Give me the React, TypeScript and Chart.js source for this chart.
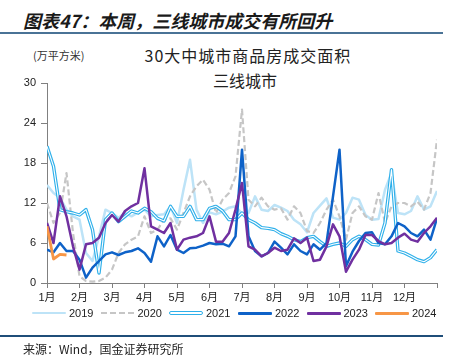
import React, { useEffect, useRef } from 'react';
import { Chart, registerables } from 'chart.js';

Chart.register(...registerables);

const STEP = 0.2; // month step between samples
const monthLabels = ['1月', '2月', '3月', '4月', '5月', '6月', '7月', '8月', '9月', '10月', '11月', '12月'];
const yTickValues = [0, 6, 12, 18, 24, 30];
const yearLabels = ['2019', '2020', '2021', '2022', '2023', '2024'];

const s2019 = [
  14.7, 13.5, 12.8, 11.0, 10.0, 9.5, 4.5, 3.3, 7.0, 11.0,
  10.5, 9.8, 10.5, 10.0, 10.6, 11.0, 10.0, 10.2, 10.3, 11.5,
  9.0, 14.0, 18.5, 11.0, 9.0, 10.6, 10.3, 10.7, 11.3, 11.5,
  10.4, 10.5, 13.0, 11.0, 10.8, 11.7, 11.3, 10.8, 9.5, 8.8,
  7.6, 10.5, 11.6, 12.7, 9.8, 9.5, 10.5, 12.8, 12.5, 10.2,
  9.5, 9.6, 14.0, 16.5, 10.5, 10.3, 10.8, 13.0, 11.0, 11.5, 13.8,
];
const s2020 = [
  12.0, 9.0, 10.5, 16.5, 7.5, 1.0, 0.3, 0.2, 0.3, 0.8,
  2.0, 4.5, 5.8, 6.5, 7.0, 10.0, 7.5, 8.0, 9.5, 9.7,
  8.0, 10.5, 13.0, 14.5, 15.5, 14.0, 10.5, 12.5, 13.5, 16.0,
  26.0, 12.5, 11.5, 12.8, 11.5, 11.0, 11.2, 9.5, 11.5, 10.5,
  7.8, 7.5, 9.0, 11.0, 12.5, 10.0, 6.5, 10.5, 11.5, 10.0,
  9.5, 13.5, 9.0, 11.5, 12.0, 12.0, 11.5, 12.2, 11.0, 13.5, 21.5,
];
const s2021 = [
  20.5, 17.5, 11.0, 10.7, 10.5, 10.2, 11.0, 8.0, 1.5, 9.5,
  10.5, 9.2, 10.0, 10.8, 10.5, 11.2, 10.7, 9.7, 9.3, 11.5,
  10.0, 10.0, 11.5, 9.5, 9.5, 11.2, 11.5, 10.8, 9.5, 9.5,
  10.5, 9.5, 9.0, 8.3, 8.2, 8.0, 7.4, 7.0, 6.5, 6.2,
  6.8, 7.0, 6.2, 5.5, 5.8, 6.0, 5.5, 6.5, 7.0, 6.5,
  5.8, 5.7, 9.0, 17.0, 4.8, 4.5, 4.0, 3.5, 3.2, 3.8, 5.0,
];
const s2022 = [
  5.0, 4.6, 6.0, 4.8, 4.8, 3.5, 0.8, 2.3, 3.3, 4.3,
  4.6, 4.2, 4.6, 4.8, 5.2, 4.5, 3.2, 7.0, 5.5, 7.2,
  5.0, 4.5, 5.2, 5.3, 5.6, 6.0, 5.8, 5.9, 5.5, 7.0,
  20.0, 7.0, 4.8, 4.0, 4.5, 6.2, 5.3, 4.3, 5.8, 4.8,
  4.3, 5.8, 5.0, 6.0, 13.0, 20.0, 2.5, 4.7, 6.3, 7.5,
  7.6, 6.0, 5.8, 7.0, 9.0, 8.5, 7.5, 7.0, 8.0, 6.5, 9.7,
];
const s2023 = [
  9.0, 6.0, 13.0, 10.0, 5.5, 2.0, 5.8, 6.0, 6.8, 9.0,
  10.2, 9.2, 10.8, 11.5, 12.0, 17.2, 8.5, 8.0, 7.5, 9.0,
  5.0, 6.5, 6.8, 7.0, 7.5, 10.0, 6.2, 6.2, 7.5, 11.0,
  15.0, 5.5, 5.0, 4.0, 4.5, 5.3, 4.8, 5.0, 6.7, 6.0,
  6.8, 3.3, 3.5, 5.5, 8.8, 7.0, 1.7, 3.5, 5.0, 7.2,
  7.2, 6.3, 5.8, 6.0, 6.8, 7.4, 6.5, 6.2, 7.5, 8.5, 9.8,
];
const s2024 = [8.5, 3.6, 4.3, 4.2];

const C2019 = '#BDE3F7';
const C2020 = '#C6C6C6';
const C2021 = '#2FB0EA';
const C2022 = '#0E62C8';
const C2023 = '#7030A0';
const C2024 = '#F79646';

const FONT = '"Liberation Sans", Arial, "Noto Sans CJK SC", sans-serif';
const CJK = '"Noto Sans CJK SC", "Liberation Sans", sans-serif';

const toXY = (vals: number[]) => vals.map((v, i) => ({ x: i * STEP, y: v }));

function ChartCanvas() {
  const ref = useRef<HTMLCanvasElement | null>(null);
  useEffect(() => {
    if (!ref.current) return;
    const base = { pointRadius: 0, borderJoinStyle: 'round' as const, tension: 0, fill: false };
    const chart = new Chart(ref.current, {
      type: 'line',
      data: {
        datasets: [
          { ...base, label: yearLabels[0], data: toXY(s2019), borderColor: C2019, borderWidth: 2.5, order: 6 },
          { ...base, label: yearLabels[1], data: toXY(s2020), borderColor: C2020, borderWidth: 2.2, borderDash: [6, 3], order: 5 },
          { ...base, label: yearLabels[2], data: toXY(s2021), borderColor: C2021, borderWidth: 3.4, order: 4 },
          { ...base, label: yearLabels[2] + '-inner', data: toXY(s2021), borderColor: '#ffffff', borderWidth: 1.1, order: 3.5 },
          { ...base, label: yearLabels[3], data: toXY(s2022), borderColor: C2022, borderWidth: 2.5, order: 3 },
          { ...base, label: yearLabels[4], data: toXY(s2023), borderColor: C2023, borderWidth: 2.5, order: 2 },
          { ...base, label: yearLabels[5], data: toXY(s2024), borderColor: C2024, borderWidth: 2.8, order: 1 },
        ],
      },
      options: {
        animation: false,
        responsive: false,
        maintainAspectRatio: false,
        layout: { padding: { left: 7, right: 29, top: 83, bottom: 48 } },
        plugins: { legend: { display: false }, tooltip: { enabled: false }, title: { display: false } },
        scales: {
          x: {
            type: 'linear',
            min: 0,
            max: 12,
            afterFit: (s: any) => { s.height = 30; },
            ticks: {
              stepSize: 1,
              autoSkip: false,
              maxRotation: 0,
              padding: 3,
              color: '#222',
              font: { family: FONT, size: 11 },
              callback: (v: any) => { const n = Math.round(Number(v)); return n < 12 ? monthLabels[n] : ''; },
            },
            grid: { drawOnChartArea: false, drawTicks: true, tickLength: 5, color: '#808080' },
            border: { display: true, color: '#808080', width: 1 },
          },
          y: {
            min: 0,
            max: 30,
            afterFit: (s: any) => { s.width = 40; },
            afterBuildTicks: (s: any) => { s.ticks = yTickValues.map((v) => ({ value: v })); },
            ticks: {
              padding: 5,
              color: '#222',
              font: { family: FONT, size: 11 },
              callback: (v: any) => String(v),
            },
            grid: { drawOnChartArea: false, drawTicks: true, tickLength: 6, color: '#808080' },
            border: { display: true, color: '#808080', width: 1 },
          },
        },
      },
    });
    return () => chart.destroy();
  }, []);
  return <canvas ref={ref} width={466} height={361} style={{ display: 'block', position: 'absolute', left: 0, top: 0 }} />;
}

function LegendItem({ left, label, kind, color }: { left: number; label: string; kind: string; color: string }) {
  let sample: React.ReactNode;
  if (kind === 'dash') {
    sample = (
      <svg width={34} height={4} style={{ display: 'block' }}>
        <line x1={0} y1={2} x2={34} y2={2} stroke={color} strokeWidth={2.2} strokeDasharray="6 3" />
      </svg>
    );
  } else if (kind === 'double') {
    sample = <div style={{ width: 32, height: 1.5, border: `1px solid ${color}`, background: '#fff', borderRadius: 2 }} />;
  } else {
    sample = <div style={{ width: 34, height: kind === 'thin' ? 2.5 : 3, background: color, borderRadius: 1 }} />;
  }
  return (
    <div style={{ position: 'absolute', left, top: 306, height: 14, display: 'flex', alignItems: 'center' }}>
      {sample}
      <span style={{ marginLeft: 3, font: `11px ${FONT}`, color: '#222', lineHeight: '14px' }}>{label}</span>
    </div>
  );
}

export default function App() {
  const lefts = [32, 100.5, 169, 238, 306.5, 375];
  const kinds = ['thin', 'dash', 'double', 'solid', 'solid', 'solid'];
  const colors = [C2019, C2020, C2021, C2022, C2023, C2024];
  return (
    <div style={{ position: 'fixed', left: 0, top: 0, width: 466, height: 361, background: '#fff', overflow: 'hidden' }}>
      <div style={{ position: 'absolute', left: 23, top: 9, font: `italic bold 18px ${CJK}`, lineHeight: '22px', color: '#1a1a1a', whiteSpace: 'nowrap' }}>
        图表47：本周，三线城市成交有所回升
      </div>
      <div style={{ position: 'absolute', left: 0, top: 32, width: 443, height: 2, background: '#4A7396' }} />
      <div style={{ position: 'absolute', left: 33, top: 47, font: `11px ${CJK}`, lineHeight: '16px', color: '#333', whiteSpace: 'nowrap' }}>
        (万平方米)
      </div>
      <div style={{ position: 'absolute', left: 98, width: 300, top: 45, textAlign: 'center', font: `16px ${CJK}`, lineHeight: '20px', color: '#222', letterSpacing: 1, whiteSpace: 'nowrap' }}>
        30大中城市商品房成交面积
      </div>
      <div style={{ position: 'absolute', left: 95, width: 300, top: 70, textAlign: 'center', font: `16px ${CJK}`, lineHeight: '20px', color: '#222', whiteSpace: 'nowrap' }}>
        三线城市
      </div>
      <ChartCanvas />
      {yearLabels.map((y, i) => (
        <LegendItem key={y} left={lefts[i]} label={y} kind={kinds[i]} color={colors[i]} />
      ))}
      <div style={{ position: 'absolute', left: 0, top: 335, width: 443, height: 1.5, background: '#1F4E79' }} />
      <div style={{ position: 'absolute', left: 23, top: 341, font: `12px ${CJK}`, lineHeight: '16px', color: '#222', whiteSpace: 'nowrap' }}>
        来源：Wind，国金证券研究所
      </div>
    </div>
  );
}
